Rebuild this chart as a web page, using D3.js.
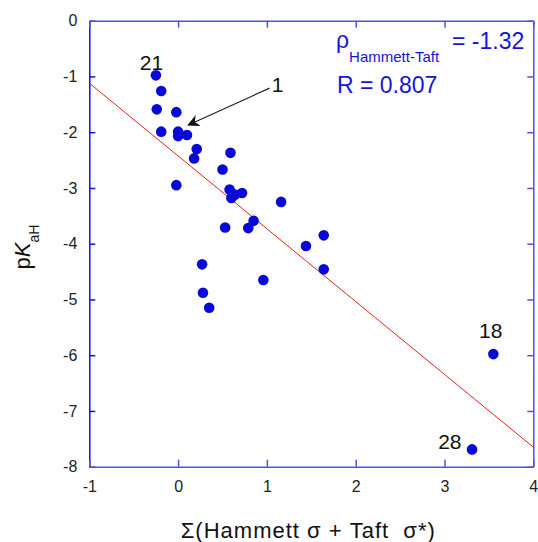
<!DOCTYPE html>
<html>
<head>
<meta charset="utf-8">
<script src="https://cdn.jsdelivr.net/npm/d3@7"></script>
<style>
  body { margin: 0; background: #fff; }
  svg { display: block; font-family: Arial, "Liberation Sans", sans-serif; }
</style>
</head>
<body>
<svg id="chart"></svg>
<script>
// Σ(Hammett σ + Taft σ*) vs pKaH
const sigma = [-0.25, -0.19, -0.24, -0.02, -0.19, 0.00, 0.00, 0.10, 0.21, 0.18,
  0.59, 0.50, -0.02, 0.58, 0.60, 0.64, 0.72, 1.16, 0.53, 0.85,
  0.79, 1.64, 1.44, 1.64, 0.96, 0.27, 0.28, 0.35, 3.55, 3.31];
const pKaH = [-0.98, -1.26, -1.59, -1.64, -1.99, -1.99, -2.07, -2.05, -2.30, -2.47,
  -2.37, -2.67, -2.95, -3.03, -3.18, -3.12, -3.09, -3.25, -3.71, -3.59,
  -3.72, -3.85, -4.04, -4.46, -4.65, -4.37, -4.88, -5.15, -5.98, -7.69];

// regression line end points
const fitX = [-1, 4];
const fitY = [-1.12, -7.65];

const xTicks = [-1, 0, 1, 2, 3, 4];
const yTicks = [0, -1, -2, -3, -4, -5, -6, -7, -8];

// compound labels
const labelText = ["21", "1", "18", "28"];
const labelX = [-0.30, 1.12, 3.52, 3.06];
const labelY = [-0.74, -1.15, -5.55, -7.55];

const width = 538, height = 542;
const margin = { top: 20.7, right: 4.7, bottom: 75.3, left: 89.3 };
const innerW = width - margin.left - margin.right;
const innerH = height - margin.top - margin.bottom;

const svg = d3.select("#chart").attr("width", width).attr("height", height);
const g = svg.append("g").attr("transform", `translate(${margin.left},${margin.top})`);

const x = d3.scaleLinear().domain([-1, 4]).range([0, innerW]);
const y = d3.scaleLinear().domain([-8, 0]).range([innerH, 0]);

const fmt = d => String(d);
const darkBlue = "#1010e0", lightBlue = "#5050e6";

// axes, ticks pointing inside
const axLeft = g.append("g")
  .call(d3.axisLeft(y).tickValues(yTicks).tickFormat(fmt).tickSizeInner(-6).tickSizeOuter(0).tickPadding(12));
axLeft.selectAll("path, line").attr("stroke", darkBlue).attr("stroke-width", 1.5);

const axBottom = g.append("g")
  .attr("transform", `translate(0,${innerH})`)
  .call(d3.axisBottom(x).tickValues(xTicks).tickFormat(fmt).tickSizeInner(-7).tickSizeOuter(0).tickPadding(14));
axBottom.selectAll("path, line").attr("stroke", lightBlue).attr("stroke-width", 1.5);

const axTop = g.append("g")
  .call(d3.axisTop(x).tickValues(xTicks).tickFormat("").tickSizeInner(-7).tickSizeOuter(0));
axTop.selectAll("path, line").attr("stroke", lightBlue).attr("stroke-width", 1.5);

const axRight = g.append("g")
  .attr("transform", `translate(${innerW},0)`)
  .call(d3.axisRight(y).tickValues(yTicks).tickFormat("").tickSizeInner(-6).tickSizeOuter(0));
axRight.selectAll("path, line").attr("stroke", lightBlue).attr("stroke-width", 1.5);

g.selectAll(".tick text")
  .attr("fill", "#222")
  .style("font-size", "16px")
  .style("font-family", "Arial, 'Liberation Sans', sans-serif");

// regression line
g.append("line")
  .attr("x1", x(fitX[0])).attr("y1", y(fitY[0]))
  .attr("x2", x(fitX[1])).attr("y2", y(fitY[1]))
  .attr("stroke", "#e52020").attr("stroke-width", 1);

// points
g.selectAll("circle.pt")
  .data(sigma.map((s, i) => ({ s, p: pKaH[i] })))
  .enter()
  .append("circle")
  .attr("class", "pt")
  .attr("cx", d => x(d.s))
  .attr("cy", d => y(d.p))
  .attr("r", 5.3)
  .attr("fill", "#0808d8");

// compound labels
g.selectAll("text.lbl")
  .data(labelText.map((t, i) => ({ t, lx: labelX[i], ly: labelY[i] })))
  .enter()
  .append("text")
  .attr("class", "lbl")
  .attr("x", d => x(d.lx))
  .attr("y", d => y(d.ly))
  .attr("dy", "0.36em")
  .attr("text-anchor", "middle")
  .style("font-size", "21px")
  .attr("fill", "#111")
  .text(d => d.t);

// arrow to compound 1
svg.append("defs").append("marker")
  .attr("id", "head")
  .attr("viewBox", "0 0 10 10")
  .attr("refX", 9).attr("refY", 5)
  .attr("markerWidth", 12).attr("markerHeight", 12)
  .attr("markerUnits", "userSpaceOnUse")
  .attr("orient", "auto")
  .append("path")
  .attr("d", "M0,0 L10,5 L0,10 L3,5 Z")
  .attr("fill", "#111");

g.append("line")
  .attr("x1", x(1.03)).attr("y1", y(-1.21))
  .attr("x2", x(0.115)).attr("y2", y(-1.87))
  .attr("stroke", "#222").attr("stroke-width", 1.2)
  .attr("marker-end", "url(#head)");

// fit annotation
const ann = svg.append("g").attr("fill", "#1414d8");
const rho = ann.append("text").attr("x", 336).attr("y", 48).style("font-size", "23px");
rho.append("tspan").text("ρ");
rho.append("tspan").attr("dy", 14).style("font-size", "15px").text("Hammett-Taft");
ann.append("text").attr("x", 452).attr("y", 49).style("font-size", "23px").text("= -1.32");
ann.append("text").attr("x", 337).attr("y", 93).style("font-size", "23px").text("R = 0.807");

// axis titles
svg.append("text")
  .attr("x", margin.left + innerW / 2 - 3)
  .attr("y", 538)
  .attr("text-anchor", "middle")
  .style("font-size", "22px")
  .style("letter-spacing", "1px")
  .style("white-space", "pre")
  .attr("fill", "#111")
  .text("Σ(Hammett σ + Taft  σ*)");

const yl = svg.append("text")
  .attr("transform", "translate(30,247) rotate(-90)")
  .attr("text-anchor", "middle")
  .style("font-size", "22px")
  .attr("fill", "#111");
yl.append("tspan").text("p");
yl.append("tspan").style("font-style", "italic").text("K");
yl.append("tspan").attr("dy", 9).style("font-size", "14px").text("aH");
</script>
</body>
</html>
